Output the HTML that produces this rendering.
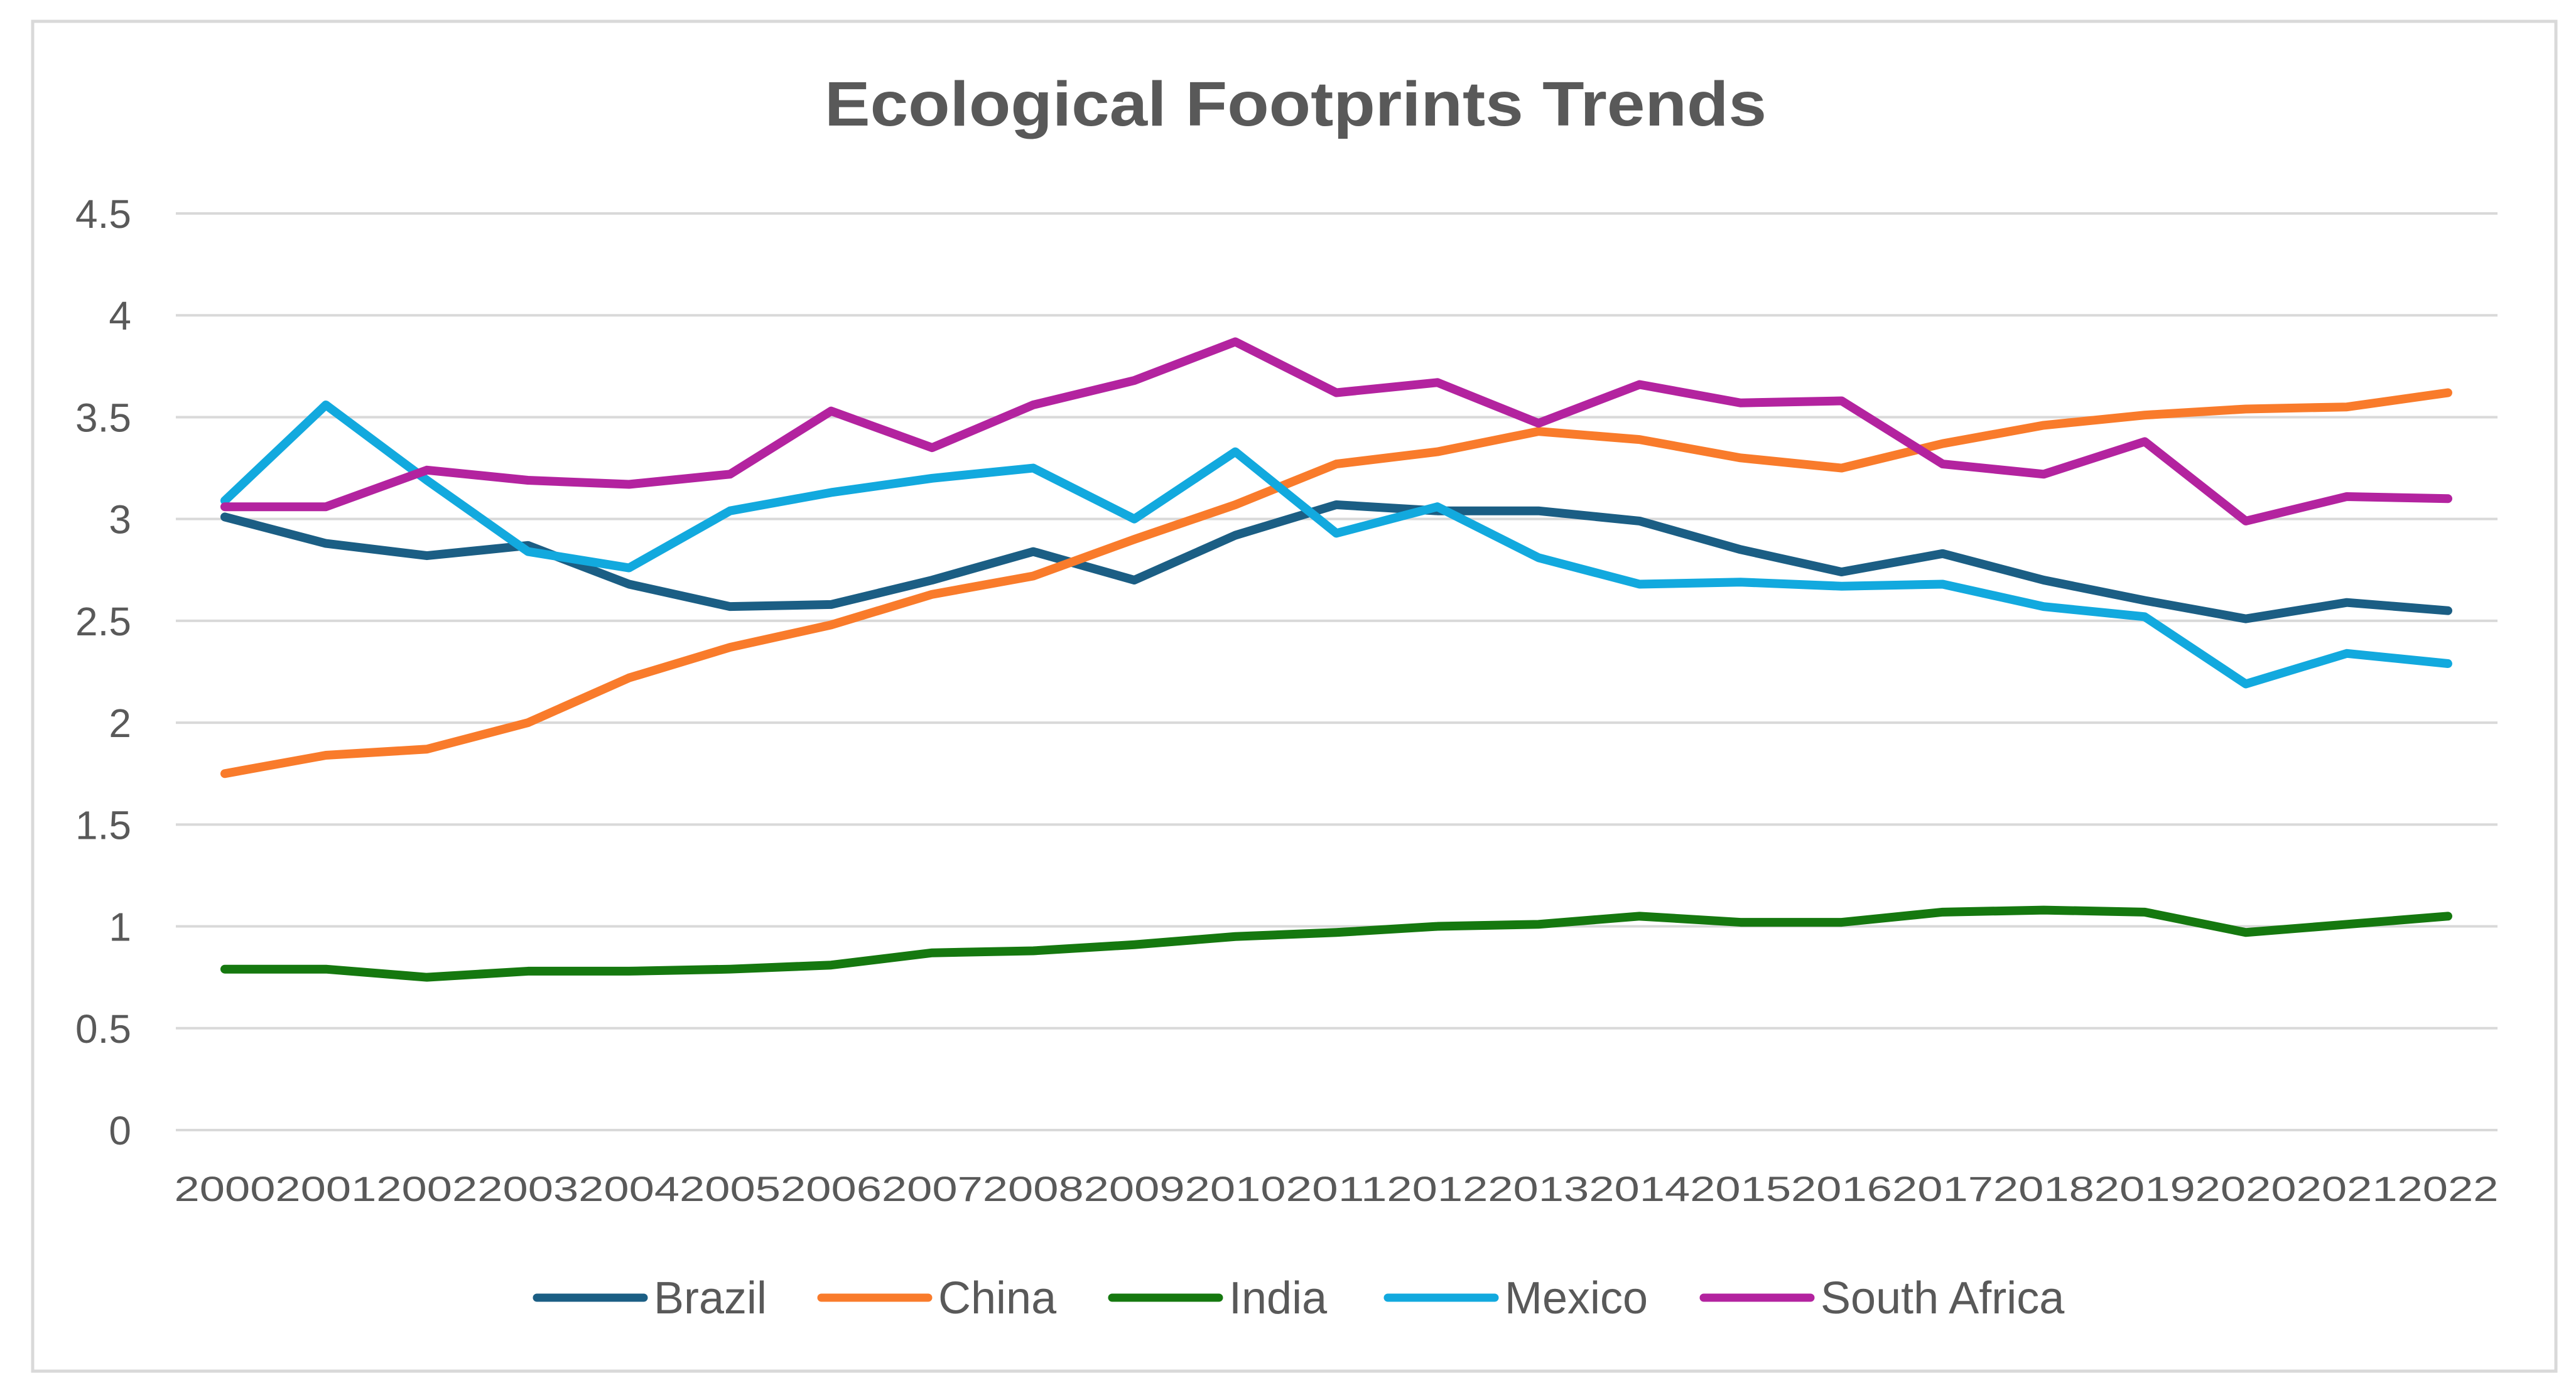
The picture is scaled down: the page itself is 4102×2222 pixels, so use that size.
<!DOCTYPE html>
<html><head><meta charset="utf-8"><style>
html,body{margin:0;padding:0;background:#fff}
svg{display:block}
text{font-family:"Liberation Sans",sans-serif;fill:#595959}
</style></head><body>
<svg id="chart" width="4102" height="2222" viewBox="0 0 4102 2222">
<rect x="52" y="34" width="4018" height="2150" fill="#fff" stroke="#d9d9d9" stroke-width="5"/>
<text x="2063" y="200" text-anchor="middle" font-size="100" font-weight="bold" textLength="1500" lengthAdjust="spacingAndGlyphs">Ecological Footprints Trends</text>
<g id="grid"></g><g id="ylabels"></g><g id="xlabels"></g><g id="series"></g><g id="legend"></g>
</svg>
<script>
const years=["2000","2001","2002","2003","2004","2005","2006","2007","2008","2009","2010","2011","2012","2013","2014","2015","2016","2017","2018","2019","2020","2021","2022"];
const yTicks=[0,0.5,1,1.5,2,2.5,3,3.5,4,4.5];
const yTickLabels=["0","0.5","1","1.5","2","2.5","3","3.5","4","4.5"];
const seriesNames=["Brazil","China","India","Mexico","South Africa"];
const brazil=[3.01,2.88,2.82,2.87,2.68,2.57,2.58,2.70,2.84,2.70,2.92,3.07,3.04,3.04,2.99,2.85,2.74,2.83,2.70,2.60,2.51,2.59,2.55];
const china=[1.75,1.84,1.87,2.00,2.22,2.37,2.48,2.63,2.72,2.90,3.07,3.27,3.33,3.43,3.39,3.30,3.25,3.37,3.46,3.51,3.54,3.55,3.62];
const india=[0.79,0.79,0.75,0.78,0.78,0.79,0.81,0.87,0.88,0.91,0.95,0.97,1.00,1.01,1.05,1.02,1.02,1.07,1.08,1.07,0.97,1.01,1.05];
const mexico=[3.09,3.56,3.19,2.84,2.76,3.04,3.13,3.20,3.25,3.00,3.33,2.93,3.06,2.81,2.68,2.69,2.67,2.68,2.57,2.52,2.19,2.34,2.29];
const southAfrica=[3.06,3.06,3.24,3.19,3.17,3.22,3.53,3.35,3.56,3.68,3.87,3.62,3.67,3.47,3.66,3.57,3.58,3.27,3.22,3.38,2.99,3.11,3.10];
const seriesValues=[brazil,china,india,mexico,southAfrica];
const colors=["#1b5e84","#f97b2b","#15780f","#12a9de","#b3239f"];
const NS="http://www.w3.org/2000/svg";
const x0=358,x1=3898,yBase=1800,yTop=340,yMax=4.5;
function xs(i){return x0+(x1-x0)*i/(years.length-1);}
function ys(v){return yBase-(yBase-yTop)*v/yMax;}
function mk(tag,attrs,parent){const e=document.createElementNS(NS,tag);for(const k in attrs)e.setAttribute(k,attrs[k]);parent.appendChild(e);return e;}
const grid=document.getElementById('grid'),yl=document.getElementById('ylabels'),xl=document.getElementById('xlabels'),sg=document.getElementById('series'),lg=document.getElementById('legend');
yTicks.forEach((t,i)=>{
 const l=mk('line',{x1:280,x2:3977,y1:ys(t),y2:ys(t),stroke:"#d9d9d9","stroke-width":4},grid);
 
 
 const tx=mk('text',{x:209,y:ys(t)+23,"text-anchor":"end","font-size":64},yl);
 tx.textContent=yTickLabels[i];
 
 
});
years.forEach((yr,i)=>{
 const tx=mk('text',{x:xs(i),y:1913,"text-anchor":"middle","font-size":56,textLength:161,lengthAdjust:"spacingAndGlyphs"},xl);
 tx.textContent=yr;
 
 
});
seriesValues.forEach((vals,s)=>{
 const p=mk('polyline',{points:vals.map((v,i)=>xs(i)+","+ys(v)).join(" "),fill:"none",stroke:colors[s],"stroke-width":14,"stroke-linejoin":"round","stroke-linecap":"round"},sg);
 
 
});
const legX=[855,1308,1771,2210,2713];
seriesNames.forEach((n,s)=>{
 const g=mk('g',{},lg);
 
 
 mk('line',{x1:legX[s],x2:legX[s]+170,y1:2067,y2:2067,stroke:colors[s],"stroke-width":13,"stroke-linecap":"round"},g);
 const t=mk('text',{x:legX[s]+186,y:2092,"font-size":72},g);
 t.textContent=n;
});
</script>
</body></html>
